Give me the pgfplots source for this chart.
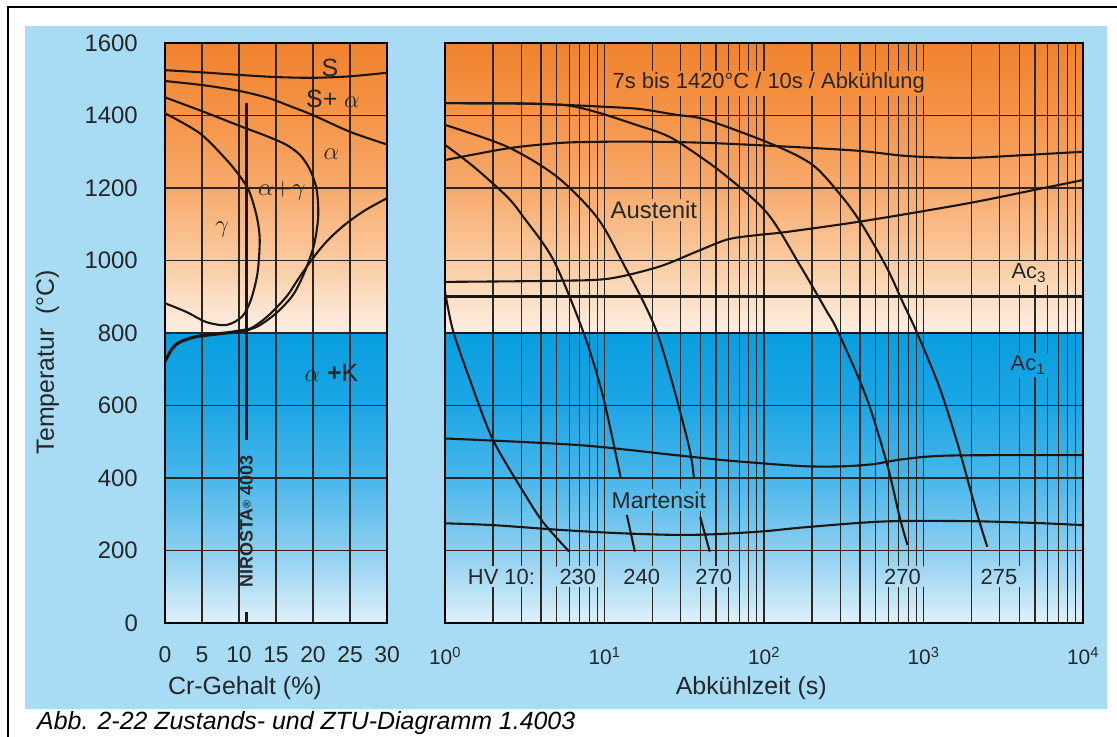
\documentclass[border=0pt]{standalone}
\usepackage{fontspec}
\setmainfont{Liberation Sans}
\usepackage{pgfplots}
\pgfplotsset{compat=1.18}

\definecolor{panel}{RGB}{168,220,245}
\definecolor{ink}{RGB}{38,38,38}
\definecolor{curve}{RGB}{28,22,18}
\definecolor{gridc}{RGB}{45,38,32}
% blue part of the temperature background (0 ... 800 C)
\definecolor{b0}{RGB}{222,241,251}
\definecolor{b2}{RGB}{140,206,240}
\definecolor{b4}{RGB}{72,182,234}
\definecolor{b6}{RGB}{28,166,229}
\definecolor{b8}{RGB}{8,158,225}
% orange part (800 ... 1600 C)
\definecolor{o8}{RGB}{253,238,226}
\definecolor{o9}{RGB}{251,222,196}
\definecolor{o10}{RGB}{250,202,160}
\definecolor{o12}{RGB}{247,170,108}
\definecolor{o14}{RGB}{245,148,72}
\definecolor{o16}{RGB}{241,130,45}

% 25bp .. 75bp of the shading span the plot area, i.e. 0 .. 1600 C
\pgfdeclareverticalshading{phasebg}{100bp}{%
  color(0bp)=(b0); color(25bp)=(b0); color(31.25bp)=(b2); color(37.5bp)=(b4);
  color(43.75bp)=(b6); color(50bp)=(b8); color(50.05bp)=(o8); color(53.125bp)=(o9);
  color(56.25bp)=(o10); color(62.5bp)=(o12); color(68.75bp)=(o14); color(75bp)=(o16);
  color(100bp)=(o16)}

\newcommand{\fs}[1]{\fontsize{#1}{#1}\selectfont}

\tikzset{
  lbl/.style={text=ink, font=\fs{23}, inner sep=0pt},
  % label box that blends into the background gradient behind it
  blend/.style 2 args={lbl, inner xsep=3bp, inner ysep=2bp, top color=#1, bottom color=#2},
}

\pgfplotsset{
  phase/.style={
    scale only axis, height=580bp, ymin=0, ymax=1600,
    axis background/.style={shading=phasebg},
    ytick={0,200,400,600,800,1000,1200,1400,1600},
    major grid style={gridc, line width=1.1pt},
    minor grid style={gridc, line width=1.1pt},
    axis line style={line width=2.6pt, black},
    major tick length=0pt, minor tick length=0pt,
    tick style={draw=none},
    tick label style={text=ink},
    label style={text=ink, font=\fs{25}},
  },
  crv/.style={curve, line width=2.1pt, smooth},
  seg/.style={curve, line width=2.1pt},
}

\begin{document}
\begin{tikzpicture}[x=1bp, y=1bp]
\useasboundingbox (0,0) rectangle (1117,737);
\fill[white] (0,0) rectangle (1117,737);
\fill[panel] (25,28) rectangle (1107,711);
\draw[black, line width=1.4pt] (8,-2) -- (8,730) -- (1119,730);

% ---------- Fe-Cr phase diagram ----------
\begin{axis}[phase,
  at={(165bp,114bp)}, anchor=south west, width=222bp,
  xmin=0, xmax=30,
  grid=major,
  xtick={0,5,10,15,20,25,30}, xticklabels={0,5,10,15,20,25,30},
  yticklabels={0,200,400,600,800,1000,1200,1400,1600},
  xticklabel style={anchor=base, yshift=-40bp, font=\fs{23}},
  yticklabel style={anchor=east, xshift=-27bp, inner sep=0pt, font=\fs{24}},
  xlabel={Cr-Gehalt (\%)},
  xlabel style={at={(axis description cs:0.36,0)}, anchor=base, yshift=-72bp},
  ylabel={Temperatur~ (°C)},
  ylabel style={at={(axis description cs:-0.53,0.45)}, anchor=center},
]
% liquidus
\addplot[crv] coordinates {(0,1525)(5,1519)(10,1512)(15,1506)(20,1504)(25,1508)(30,1518)};
% solidus
\addplot[crv] coordinates {(0,1495)(5,1484)(10,1468)(14,1448)(17,1425)(20,1401)(25,1355)(30,1320)};
% alpha / alpha+gamma
\addplot[crv] coordinates {(0,1450)(5,1412)(10,1372)(14,1341)(16.5,1318)(18.3,1290)(19.6,1250)
  (20.5,1195)(20.7,1120)(20.1,1040)(18.8,965)(17.3,905)(15.1,856)(12.5,818)(10,802)};
% gamma loop
\addplot[crv] coordinates {(0,1406)(4.7,1351)(8.3,1278)(10.2,1230)(11.4,1190)(12.4,1121)(12.8,1057)
  (12.5,965)(11.6,891)(10.4,845)(8.3,822)(5.6,830)(2.9,858)(0,882)};
% carbide boundary
\addplot[crv] coordinates {(30,1172)(27,1138)(24.5,1102)(22.3,1062)(20.5,1020)(18.2,955)(16.4,900)
  (13.8,845)(11.5,812)(9,802)(6,795)(4,789)(2,775)(1,758)(0,722)};
\addplot[curve, line width=3.2pt, smooth] coordinates {(0,722)(1,758)(2,775)(4,789)(6,795)(9,802)(11.5,810)};
% NIROSTA 4003 (11 % Cr)
\addplot[curve, line width=3.2pt] coordinates {(11,1435)(11,505)};
\addplot[curve, line width=3.2pt] coordinates {(11,30)(11,0)};
\node[rotate=90, text=ink, font=\bfseries\fs{18}, inner sep=0pt] at (axis cs:11,280)
  {NIROSTA{\fs{11}\raisebox{0.35ex}{®}} 4003};
% phase fields
\node[lbl, font=\fs{25}] at (axis cs:22.3,1532) {S};
\node[lbl, font=\fs{25}] at (axis cs:22.7,1445) {S+ $\alpha$};
\node[lbl, font=\fs{28}] at (axis cs:22.5,1293) {$\alpha$};
\node[lbl, font=\fs{27}] at (axis cs:15.8,1192) {$\alpha{+}\gamma$};
\node[lbl, font=\fs{28}] at (axis cs:7.7,1084) {$\gamma$};
\node[lbl, font=\fs{25}] at (axis cs:22.5,690) {$\alpha$ \textbf{+}K};
\end{axis}

% ---------- continuous cooling diagram ----------
\begin{axis}[phase,
  at={(445bp,114bp)}, anchor=south west, width=638bp,
  xmode=log, log basis x=10, xmin=1, xmax=10000,
  grid=both,
  xtick={1,10,100,1000,10000},
  xticklabels={10\textsuperscript{0},10\textsuperscript{1},10\textsuperscript{2},10\textsuperscript{3},10\textsuperscript{4}},
  minor xtick={2,3,4,5,6,7,8,9,20,30,40,50,60,70,80,90,200,300,400,500,600,700,800,900,
    2000,3000,4000,5000,6000,7000,8000,9000},
  yticklabels={},
  xticklabel style={anchor=base, yshift=-42bp, font=\fs{21}},
  xlabel={Abkühlzeit (s)},
  xlabel style={at={(axis description cs:0.48,0)}, anchor=base, yshift=-72bp},
]
% Ac1 and Ac3
\addplot[curve, line width=2.8pt] coordinates {(1,800)(10000,800)};
\addplot[curve, line width=2.5pt] coordinates {(1,900)(10000,900)};
% ferrite start
\addplot[crv] coordinates {(1,1277)(1.5,1292)(2.45,1309)(4,1320)(6.3,1326)(15,1328)(40,1325)(115,1316)
  (380,1303)(800,1288)(1860,1283)(4000,1290)(10000,1300)};
% austenite boundary
\addplot[crv] coordinates {(1,941)(5,944)(10.7,950)(22,983)(38,1025)(59,1058)(90,1070)(140,1079)
  (437,1110)(1860,1157)(5000,1195)(10000,1222)};
% Ms and Mf
\addplot[crv] coordinates {(1,509)(6.8,491)(28,463)(60,448)(170,433)(300,432)(480,438)(750,452)(1480,462)(10000,463)};
\addplot[crv] coordinates {(1,275)(2,270)(5.2,257)(12,248)(28,243)(50,245)(100,253)(180,264)(560,280)
  (1860,281)(5000,276)(10000,270)};
% cooling curves
\addplot[crv] coordinates {(1,915)(1.12,808)(1.435,670)(2.0,505)(3.24,348)(4.17,275)(6.0,197)};
\addplot[crv] coordinates {(1,1319)(1.51,1259)(2.45,1176)(3.09,1121)(4.8,1000)(7.4,800)(9.8,624)(12.6,403)};
\addplot[seg] coordinates {(13.8,298)(15.5,197)};
\addplot[crv] coordinates {(1,1374)(2.45,1314)(5.0,1232)(8.9,1121)(12.8,1000)(21.4,800)(33.1,505)(36.3,403)};
\addplot[seg] coordinates {(39.8,293)(45.7,197)};
\addplot[crv] coordinates {(1,1434)(3,1433)(5.8,1428)(9.3,1407)(16.6,1371)(22.4,1352)(29.5,1325)(55,1241)
  (105,1130)(170,983)(245,863)(290,805)(437,624)(589,441)(708,293)(794,215)};
\addplot[crv] coordinates {(1,1434)(3,1433)(5.8,1429)(10,1424)(16.6,1418)(28,1402)(43.6,1388)(115,1319)
  (204,1262)(316,1170)(417,1095)(589,980)(741,885)(912,800)(1259,650)(1622,500)(2138,310)(2512,210)};
% labels
\node[blend={o16!61!o14}{o16!27!o14}, font=\fs{22}] at (axis cs:107,1489) {7s bis 1420°C / 10s / Abkühlung};
\node[blend={o12!84!o10}{o12!55!o10}, font=\fs{24}] at (axis cs:20.4,1139) {Austenit};
\node[blend={b4!84!b2}{b4!55!b2}, font=\fs{23}] at (axis cs:21.9,339) {Martensit};
\node[blend={b2!77!b0}{b2!50!b0}, font=\fs{22}] at (axis cs:2.26,128) {HV 10:};
\node[blend={b2!77!b0}{b2!50!b0}, font=\fs{22}] at (axis cs:6.8,128) {230};
\node[blend={b2!77!b0}{b2!50!b0}, font=\fs{22}] at (axis cs:17.1,128) {240};
\node[blend={b2!77!b0}{b2!50!b0}, font=\fs{22}] at (axis cs:48.4,128) {270};
\node[blend={b2!77!b0}{b2!50!b0}, font=\fs{22}] at (axis cs:738,128) {270};
\node[blend={b2!77!b0}{b2!50!b0}, font=\fs{22}] at (axis cs:2972,128) {275};
\node[blend={o10!95!o9}{o10!30!o9}, font=\fs{22}] at (axis cs:4580,965) {Ac\textsubscript{3}};
\node[blend={b8!71!b6}{b8!40!b6}, font=\fs{22}] at (axis cs:4520,712) {Ac\textsubscript{1}};
\end{axis}

\node[anchor=base west, font=\itshape\fs{25}, text=black, inner sep=0pt] at (37,7)
  {Abb. 2-22 Zustands- und ZTU-Diagramm 1.4003};
\end{tikzpicture}
\end{document}
